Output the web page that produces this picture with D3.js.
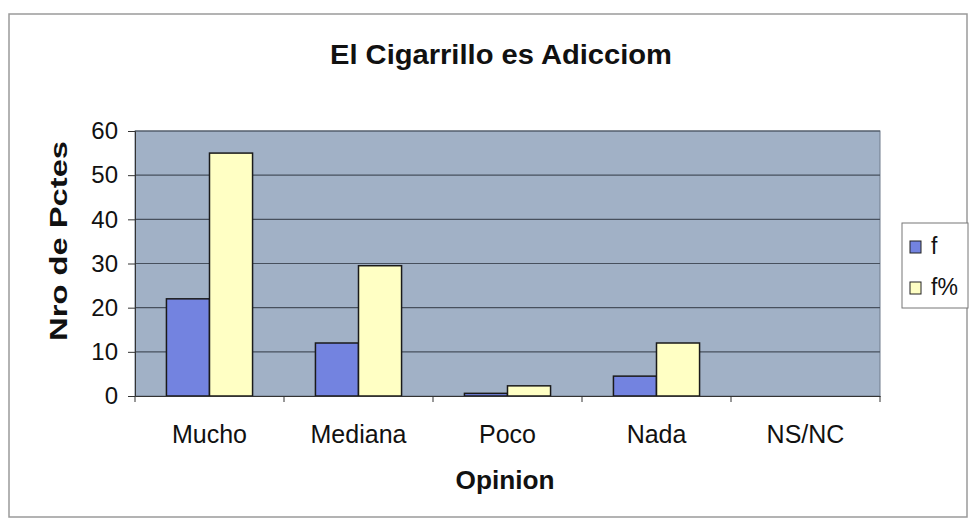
<!DOCTYPE html>
<html>
<head>
<meta charset="utf-8">
<script src="https://cdn.jsdelivr.net/npm/d3@7"></script>
<style>
  body { margin: 0; background: #fff; }
  text { font-family: "Liberation Sans", Arial, sans-serif; }
</style>
</head>
<body>
<svg width="971" height="520"></svg>
<script>
// values
const categories = ['Mucho', 'Mediana', 'Poco', 'Nada', 'NS/NC'];
const seriesNames = ['f', 'f%'];
const fValues = [22, 12, 0.6, 4.5, 0];
const fPctValues = [55, 29.5, 2.3, 12, 0];
const yTicks = [0, 10, 20, 30, 40, 50, 60];

const colors = { 'f': '#7383e0', 'f%': '#ffffc4' };
const font = '"Liberation Sans", Arial, sans-serif';

const svg = d3.select('svg');
const plotLeft = 135, plotRight = 880, plotTop = 131, plotBottom = 396;

// outer chart frame
svg.append('rect')
    .attr('x', 9).attr('y', 14)
    .attr('width', 958).attr('height', 503)
    .attr('fill', '#fff')
    .attr('stroke', '#9a9a9a')
    .attr('stroke-width', 1.5);

svg.append('text')
    .attr('x', 501).attr('y', 64)
    .attr('text-anchor', 'middle')
    .attr('font-size', '28px')
    .attr('font-weight', 'bold')
    .attr('fill', '#111')
    .attr('textLength', 342)
    .attr('lengthAdjust', 'spacingAndGlyphs')
    .text('El Cigarrillo es Adicciom');

const x = d3.scaleBand().domain(categories).range([plotLeft, plotRight]).paddingInner(0).paddingOuter(0);
const xSub = d3.scaleBand().domain(seriesNames).range([0, x.bandwidth()]).paddingInner(0).paddingOuter(0.73);
const y = d3.scaleLinear().domain([0, 60]).range([plotBottom, plotTop]);

// plot area
svg.append('rect')
    .attr('x', plotLeft).attr('y', plotTop)
    .attr('width', plotRight - plotLeft).attr('height', plotBottom - plotTop)
    .attr('fill', '#a1b1c6')
    .attr('stroke', '#6e7b8c');

// gridlines
svg.append('g')
    .selectAll('line')
    .data(yTicks.filter(function (d) { return d > 0; }))
    .enter().append('line')
    .attr('x1', plotLeft).attr('x2', plotRight)
    .attr('y1', function (d) { return y(d); })
    .attr('y2', function (d) { return y(d); })
    .attr('stroke', '#47505d')
    .attr('stroke-width', 1.2);

// bars
const rows = categories.map(function (c, i) {
    return { cat: c, vals: [{ s: 'f', v: fValues[i] }, { s: 'f%', v: fPctValues[i] }] };
});
svg.append('g')
    .selectAll('g')
    .data(rows)
    .enter().append('g')
    .attr('transform', function (d) { return 'translate(' + x(d.cat) + ',0)'; })
    .selectAll('rect')
    .data(function (d) { return d.vals.filter(function (e) { return e.v > 0; }); })
    .enter().append('rect')
    .attr('x', function (d) { return xSub(d.s); })
    .attr('width', xSub.bandwidth())
    .attr('y', function (d) { return y(d.v); })
    .attr('height', function (d) { return plotBottom - y(d.v); })
    .attr('fill', function (d) { return colors[d.s]; })
    .attr('stroke', '#1a1a1a')
    .attr('stroke-width', 1.5);

// y axis
const yAxis = svg.append('g')
    .attr('transform', 'translate(' + plotLeft + ',0)')
    .call(d3.axisLeft(y).tickValues(yTicks).tickSize(7).tickPadding(10));
yAxis.selectAll('text').attr('font-size', '24px').attr('fill', '#111')
    .style('font-family', font);
yAxis.selectAll('line, path').attr('stroke', '#333');

// x axis
const xAxis = svg.append('g')
    .attr('transform', 'translate(0,' + plotBottom + ')')
    .call(d3.axisBottom(x).tickSize(0).tickPadding(29));
xAxis.select('.domain').attr('stroke', '#333');
xAxis.selectAll('text').attr('font-size', '25px').attr('fill', '#111')
    .style('font-family', font);
// boundary ticks between categories
xAxis.selectAll('.bound')
    .data(categories.concat(['end']))
    .enter().append('line')
    .attr('class', 'bound')
    .attr('x1', function (d, i) { return plotLeft + i * x.bandwidth(); })
    .attr('x2', function (d, i) { return plotLeft + i * x.bandwidth(); })
    .attr('y1', 0).attr('y2', 6)
    .attr('stroke', '#333');

svg.append('text')
    .attr('x', 505).attr('y', 489)
    .attr('text-anchor', 'middle')
    .attr('font-size', '25px')
    .attr('font-weight', 'bold')
    .attr('fill', '#111')
    .attr('textLength', 99)
    .attr('lengthAdjust', 'spacingAndGlyphs')
    .text('Opinion');

svg.append('text')
    .attr('transform', 'translate(67,241) rotate(-90)')
    .attr('text-anchor', 'middle')
    .attr('font-size', '23px')
    .attr('font-weight', 'bold')
    .attr('fill', '#111')
    .attr('textLength', 200)
    .attr('lengthAdjust', 'spacingAndGlyphs')
    .text('Nro de Pctes');

// legend
const legend = svg.append('g');
legend.append('rect')
    .attr('x', 902).attr('y', 223)
    .attr('width', 66).attr('height', 85)
    .attr('fill', '#fff')
    .attr('stroke', '#777');
seriesNames.forEach(function (s, i) {
    const cy = 247 + i * 41;
    legend.append('rect')
        .attr('x', 910).attr('y', cy - 6)
        .attr('width', 11).attr('height', 12)
        .attr('fill', colors[s])
        .attr('stroke', '#222');
    legend.append('text')
        .attr('x', 931).attr('y', cy + 7)
        .attr('font-size', '23px')
        .attr('fill', '#111')
        .text(s);
});
</script>
</body>
</html>
